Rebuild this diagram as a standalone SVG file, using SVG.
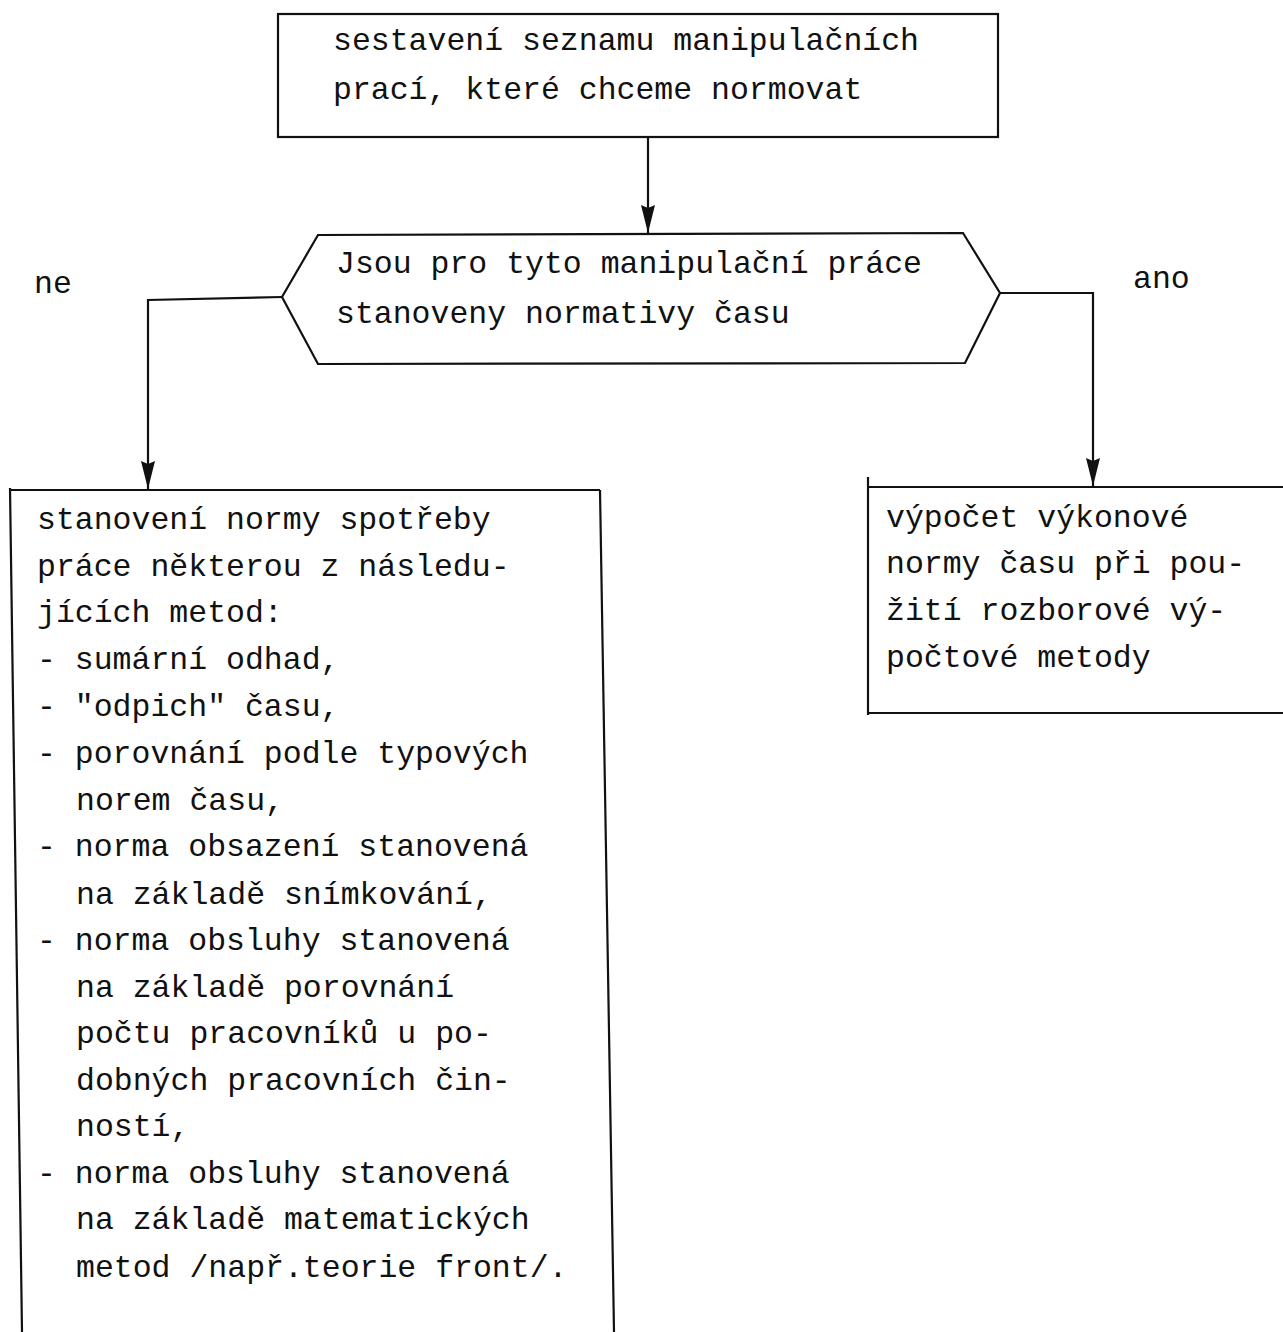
<svg xmlns="http://www.w3.org/2000/svg" width="1283" height="1332" viewBox="0 0 1283 1332">
<style>
text{font-family:"Liberation Mono","DejaVu Sans Mono",monospace;font-size:31.5px;fill:#111;}
.ln{fill:none;stroke:#111;stroke-width:2.2;}
</style>
<defs>
<marker id="ah" markerWidth="30" markerHeight="16" refX="28" refY="8" orient="auto" markerUnits="userSpaceOnUse" viewBox="0 0 30 16">
<path d="M0,1 L28,8 L0,15 L3,8 Z" fill="#111"/>
</marker>
</defs>
<rect width="1283" height="1332" fill="#fff"/>
<g id="connectors">
<path class="ln" d="M648,137 V233" marker-end="url(#ah)"/>
<path class="ln" d="M282,297 L148,300 V489" marker-end="url(#ah)"/>
<path class="ln" d="M1000,293 H1093 V486" marker-end="url(#ah)"/>
</g>
<g id="start">
<rect class="ln" x="278" y="14" width="720" height="123"/>
<text x="333" y="50">sestavení seznamu manipulačních</text>
<text x="333" y="99">prací, které chceme normovat</text>
</g>
<g id="decision">
<polygon class="ln" points="318,235 963,233 1000,293 965,363 318,364 282,297"/>
<text x="336" y="273">Jsou pro tyto manipulační práce</text>
<text x="336" y="323">stanoveny normativy času</text>
</g>
<g id="label-ne"><text x="34" y="293">ne</text></g>
<g id="label-ano"><text x="1133" y="288">ano</text></g>
<g id="left-box">
<path class="ln" d="M10,490 H600"/>
<path class="ln" d="M10,488 L22,1332"/>
<path class="ln" d="M600,490 L614,1332"/>
<text x="37" y="529">stanovení normy spotřeby</text>
<text x="37" y="576">práce některou z následu-</text>
<text x="37" y="622">jících metod:</text>
<text x="37" y="669">- sumární odhad,</text>
<text x="37" y="716">- "odpich" času,</text>
<text x="37" y="763">- porovnání podle typových</text>
<text x="76" y="810">norem času,</text>
<text x="37" y="856">- norma obsazení stanovená</text>
<text x="76" y="904">na základě snímkování,</text>
<text x="37" y="950">- norma obsluhy stanovená</text>
<text x="76" y="997">na základě porovnání</text>
<text x="76" y="1043">počtu pracovníků u po-</text>
<text x="76" y="1090">dobných pracovních čin-</text>
<text x="76" y="1136">ností,</text>
<text x="37" y="1183">- norma obsluhy stanovená</text>
<text x="76" y="1229">na základě matematických</text>
<text x="76" y="1277">metod /např.teorie front/.</text>
</g>
<g id="right-box">
<path class="ln" d="M868,477 V715"/>
<path class="ln" d="M868,487 H1283"/>
<path class="ln" d="M868,713 H1283"/>
<text x="886" y="527">výpočet výkonové</text>
<text x="886" y="573">normy času při pou-</text>
<text x="886" y="620">žití rozborové vý-</text>
<text x="886" y="667">počtové metody</text>
</g>
</svg>
